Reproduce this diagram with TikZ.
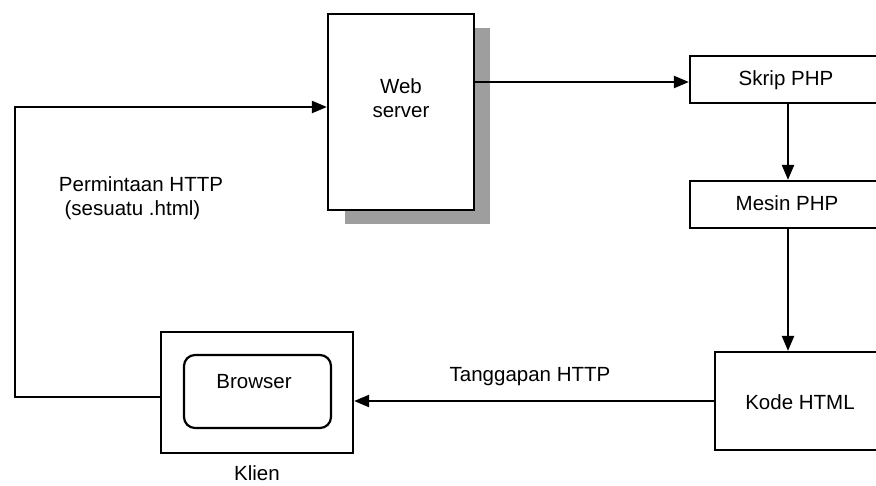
\documentclass[tikz,border=0pt]{standalone}
\usepackage{fontspec}
\setmainfont{Liberation Sans}
\usetikzlibrary{arrows.meta,calc}
\begin{document}
\begin{tikzpicture}[x=1pt,y=-1pt,
  line width=2.2pt,
  every node/.style={font=\fontsize{20.5}{24}\selectfont},
  box/.style={draw, rectangle, inner sep=0pt},
  txt/.style={inner sep=0pt},
  link/.style={-{Triangle[length=15pt,width=12pt]}},
  shade/.style={fill=black!38, draw=none}]
\useasboundingbox (0,0) rectangle (876,485);
\clip (0,0) rectangle (876,485);

% drop shadow of the web server
\fill[shade] (474,28) rectangle (490,224);
\fill[shade] (345,210) rectangle (490,224);

% boxes
\node[box, fill=white, minimum width=146pt, minimum height=196pt] (ws) at (401,112) {};
\node[txt, align=center] (wstxt) at (401,98) {Web\\server};

\node[box, minimum width=196pt, minimum height=47pt] (skrip) at (788,79.5) {};
\node[txt] (skriptxt) at (786,80) {Skrip PHP};

\node[box, minimum width=196pt, minimum height=47pt] (mesin) at (788,204.5) {};
\node[txt] (mesintxt) at (787,203) {Mesin PHP};

\node[box, minimum width=171pt, minimum height=98pt] (kode) at (800.5,401) {};
\node[txt] (kodetxt) at (800,402) {Kode HTML};

\node[box, minimum width=192pt, minimum height=121pt] (klien) at (257,392.5) {};
\node[box, rounded corners=11pt, minimum width=147pt, minimum height=73pt] (browser) at (257.5,391.5) {};
\node[txt] (browsertxt) at (254,382) {Browser};
\node[txt] (klientxt) at (257,473) {Klien};

% labels
\node[txt, align=left] (req) at (141,198) {Permintaan HTTP\\\ (sesuatu .html)};
\node[txt] (resp) at (530,377) {Tanggapan HTTP};

% connectors
\coordinate (loopA) at (15,397);
\coordinate (loopB) at (15,107);
\draw[link] ($(klien.west)+(0,4.5)$) -- (loopA) -- (loopB) -- (loopB -| ws.west);
\draw[link] (ws.east |- 0,82) -- (skrip.west |- 0,82);
\draw[link] (skrip.south) -- (mesin.north);
\draw[link] (mesin.south) -- (kode.north -| mesin.south);
\draw[link] (kode.west) -- (kode.west -| klien.east);
\end{tikzpicture}
\end{document}
